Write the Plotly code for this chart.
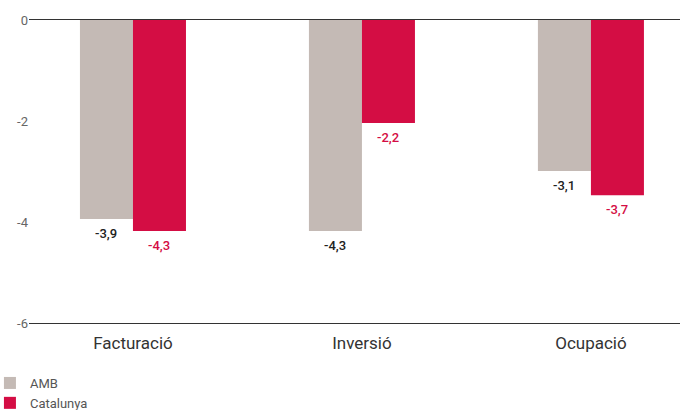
import plotly.graph_objects as go

categories = ["Facturació", "Inversió", "Ocupació"]
amb_values = [-3.94, -4.18, -2.99]
cat_values = [-4.18, -2.04, -3.47]
amb_labels = ["-3,9", "-4,3", "-3,1"]
cat_labels = ["-4,3", "-2,2", "-3,7"]
y_ticks = [0, -2, -4, -6]

GRAY = "#c4bab5"
RED = "#d40d44"
FONT = "Roboto"

fig = go.Figure()
fig.add_trace(go.Bar(name="AMB", x=categories, y=amb_values, marker_color=GRAY,
                     marker_line_width=0))
fig.add_trace(go.Bar(name="Catalunya", x=categories, y=cat_values, marker_color=RED,
                     marker_line_width=0))

half = 0.463 / 4
annotations = []
for i in range(len(categories)):
    annotations.append(dict(x=i - half, y=amb_values[i], xref="x", yref="y",
                            text=amb_labels[i], showarrow=False, yanchor="top",
                            yshift=-5, font=dict(family=FONT, size=13, color="#222", weight=500)))
    annotations.append(dict(x=i + half, y=cat_values[i], xref="x", yref="y",
                            text=cat_labels[i], showarrow=False, yanchor="top",
                            yshift=-5, font=dict(family=FONT, size=13, color=RED, weight=500)))

fig.update_layout(
    width=680, height=410,
    margin=dict(l=29, r=0, t=20, b=87, autoexpand=False),
    paper_bgcolor="white", plot_bgcolor="white",
    barmode="group", bargap=0.537, bargroupgap=0,
    font=dict(family=FONT, color="#444"),
    annotations=annotations,
    legend=dict(orientation="v", x=-0.060, xanchor="left", y=-0.1485, yanchor="top",
                font=dict(family=FONT, size=13, color="#555"), tracegroupgap=0,
                itemclick=False),
    xaxis=dict(range=[-0.454, 2.389], showline=True, mirror=True, linecolor="#333",
               linewidth=1, showgrid=False, ticks="", ticklabelstandoff=5,
               tickfont=dict(family=FONT, size=17, color="#333")),
    yaxis=dict(range=[-6, 0], tickvals=y_ticks, ticktext=[str(v) for v in y_ticks],
               showgrid=False, zeroline=False, showline=False, ticks="",
               tickfont=dict(family=FONT, size=13, color="#666")),
)

fig.write_html("out.html", config={"displayModeBar": False},
               post_script="document.body.style.margin='0';document.body.style.padding='0';")
